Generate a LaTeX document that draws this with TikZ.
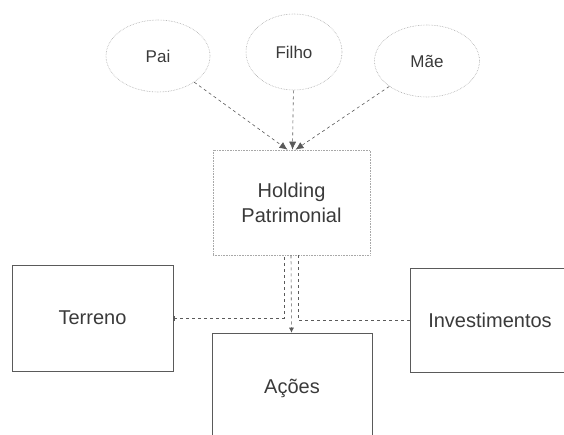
\documentclass[tikz,border=0pt]{standalone}
\usepackage{fontspec}
\setmainfont{Liberation Sans}
\usetikzlibrary{shapes.geometric,arrows.meta}
\definecolor{ink}{HTML}{3A3A3A}
\definecolor{edge}{HTML}{5A5A5A}
\definecolor{soft}{HTML}{A8A8A8}
\tikzset{
  person/.style={ellipse, draw=soft, densely dotted, line width=0.6pt,
    text=ink, font=\fontsize{17}{20}\selectfont, inner sep=0pt},
  asset/.style={rectangle, draw=edge, line width=0.6pt, text=ink,
    font=\fontsize{20}{25}\selectfont, inner sep=0pt},
  holdbox/.style={rectangle, draw=soft, densely dotted, line width=0.6pt,
    text=ink, font=\fontsize{20}{25}\selectfont, align=center, inner sep=0pt},
  link/.style={draw=edge, line width=0.6pt, dash pattern=on 3pt off 3pt},
  bigtip/.style={-{Latex[length=8pt,width=7pt]}},
  smalltip/.style={-{Latex[length=5pt,width=5pt]}}
}
\begin{document}
\begin{tikzpicture}[x=1pt,y=-1pt]
\useasboundingbox (0,0) rectangle (564,435);

% owners
\node[person, minimum width=104pt, minimum height=72pt] (pai) at (158,56) {Pai};
\node[person, minimum width=96pt, minimum height=76pt] (filho) at (294,52) {Filho};
\node[person, minimum width=105pt, minimum height=72pt] (mae) at (427,61) {Mãe};

% holding company
\node[holdbox, minimum width=157pt, minimum height=105pt] (hold) at (291.5,202.5)
  {Holding\\Patrimonial};

% assets
\node[asset, minimum width=161pt, minimum height=106pt] (terreno) at (92.5,318) {Terreno};
\node[asset, minimum width=160pt, minimum height=110pt] (acoes) at (292,388) {Ações};
\node[asset, minimum width=160pt, minimum height=104pt] (invest) at (490,320) {Investimentos};

% owners into the holding
\draw[link, bigtip] (pai) -- ([xshift=-4pt]hold.north);
\draw[link, bigtip] (filho) -- ([xshift=1pt]hold.north);
\draw[link, bigtip] (mae) -- ([xshift=4pt]hold.north);

% holding down to the assets
\draw[link, {Bar[width=5pt,line width=1.2pt]}-] (terreno.east) -| ([xshift=-7.5pt]hold.south);
\draw[link] (invest.west) -| ([xshift=6.5pt]hold.south);
\draw[link, smalltip] ([xshift=-0.5pt]hold.south) -- ([xshift=-0.5pt]acoes.north);
\end{tikzpicture}
\end{document}
